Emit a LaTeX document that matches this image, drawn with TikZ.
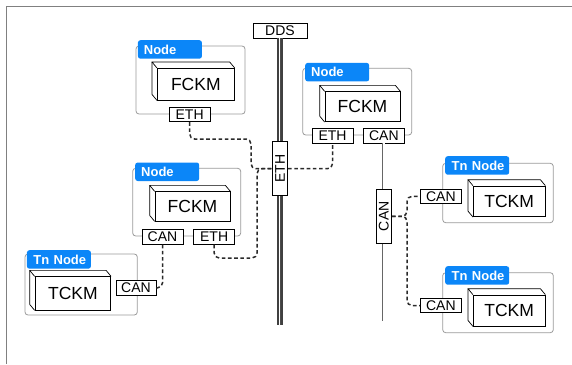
\documentclass[tikz,border=0pt]{standalone}
\usepackage{fontspec}
\usepackage{graphicx}
\setmainfont{Liberation Sans}
\definecolor{tabblue}{HTML}{0B86F8}
\definecolor{grpgray}{HTML}{9A9A9A}
\definecolor{dashc}{HTML}{2A2A2A}
\tikzset{
  grp/.style={draw=grpgray, line width=0.8pt, rounded corners=3pt, inner sep=0pt},
  tabbox/.style={fill=tabblue, rounded corners=2.5pt, anchor=north west, inner xsep=0pt, inner ysep=0pt,
    minimum height=18.5pt, text width=64pt, align=left, text=white, font=\fontsize{13}{13}\selectfont\bfseries},
  port/.style={draw=black, line width=0.7pt, fill=white, inner sep=0pt, minimum width=41pt, minimum height=14.6pt,
    font=\fontsize{14}{14}\selectfont},
  cube/.style={draw=black, line width=0.7pt, fill=white, inner sep=0pt, font=\fontsize{17.5}{17.5}\selectfont},
  cubeedge/.style={draw=black, line width=0.7pt, line join=round},
  conn/.style={draw=dashc, line width=1.5pt, dash pattern=on 3.6pt off 2.6pt, rounded corners=5pt},
  ddsbus/.style={draw=black!75, line width=5.5pt},
  ddsinner/.style={draw=white, line width=2.6pt},
  ddscore/.style={draw=black!70, line width=1pt},
  canbus/.style={draw=black!60, line width=0.9pt, double=white, double distance=1.3pt},
  frame/.style={draw=black!50, line width=1.3pt},
}
\newcommand{\cubeback}[1]{%
  \draw[cubeedge] (#1.north west) -- ([shift={(-5,-6)}]#1.north west) -- ([shift={(-5,-6)}]#1.north east) -- (#1.north east);
  \draw[cubeedge] ([shift={(-5,-6)}]#1.north west) -- ([shift={(-5,-6)}]#1.south west) -- (#1.south west);
}
\begin{document}
\begin{tikzpicture}[x=1pt,y=-1pt]
\useasboundingbox (0,0) rectangle (572,364);
\draw[frame] (572,6.3) -- (6.3,6.3) -- (6.3,364);

% group boxes
\node[grp, minimum width=109pt, minimum height=68pt] (g1) at (190.5,80) {};
\node[grp, minimum width=109pt, minimum height=66.7pt] (g2) at (357.2,101.65) {};
\node[grp, minimum width=108pt, minimum height=67.7pt] (g3) at (186.7,202.15) {};
\node[grp, minimum width=112.3pt, minimum height=61pt] (g4) at (81.15,284.5) {};
\node[grp, minimum width=110.6pt, minimum height=59.4pt] (g5) at (498,193) {};
\node[grp, minimum width=110.6pt, minimum height=60pt] (g6) at (498,302.7) {};

% tabs
\node[tabbox] (t1) at (137.7,40) {\hspace*{6pt}Node};
\node[tabbox] (t2) at (305,62.7) {\hspace*{6pt}Node};
\node[tabbox] (t3) at (135,162.3) {\hspace*{6pt}Node};
\node[tabbox] (t4) at (26.7,250) {\hspace*{6.5pt}Tn Node};
\node[tabbox] (t5) at (445,156) {\hspace*{6.5pt}Tn Node};
\node[tabbox] (t6) at (445,266) {\hspace*{6.5pt}Tn Node};

% cuboids
\node[cube, minimum width=77pt, minimum height=31.7pt] (c1) at (195.8,84.15) {FCKM};
\node[cube, minimum width=75pt, minimum height=30pt] (c2) at (362.5,106.7) {FCKM};
\node[cube, minimum width=75pt, minimum height=29.3pt] (c3) at (192.5,206.35) {FCKM};
\node[cube, minimum width=75.7pt, minimum height=33.3pt] (c4) at (72.85,293.35) {TCKM};
\node[cube, minimum width=71.7pt, minimum height=30.7pt] (c5) at (509.15,201.35) {TCKM};
\node[cube, minimum width=71.7pt, minimum height=31pt] (c6) at (509.15,310.5) {TCKM};
\cubeback{c1}\cubeback{c2}\cubeback{c3}\cubeback{c4}\cubeback{c5}\cubeback{c6}

% DDS and buses
\node[port, minimum width=54pt, minimum height=15pt] (dds) at (280,30.5) {DDS};
\coordinate (ddsend) at (280,325);
\draw[ddsbus] (dds.south) -- (ddsend);
\draw[ddsinner] (dds.south) -- (ddsend);
\draw[ddscore] (dds.south) -- (ddsend);

\node[port] (p2c) at (383.85,135.8) {CAN};
\coordinate (canend) at (383.85,320.7);
\draw[canbus] (p2c.south) -- (canend);

\node[port, minimum width=15.4pt, minimum height=54pt] (beth) at (280,168.7) {\rotatebox{90}{ETH}};
\node[port, minimum width=15.7pt, minimum height=54pt] (bcan) at (383.85,216.3) {\rotatebox{90}{CAN}};

% ports
\node[port] (p1) at (189.65,114.5) {ETH};
\node[port] (p2e) at (332.5,135.8) {ETH};
\node[port, minimum height=15.3pt] (p3c) at (162.5,236.65) {CAN};
\node[port, minimum height=15.3pt] (p3e) at (214.15,236.65) {ETH};
\node[port, minimum width=40pt] (p4) at (136,287.85) {CAN};
\node[port] (p5) at (440.85,196.3) {CAN};
\node[port] (p6) at (440.85,305.5) {CAN};

% connectors
\draw[conn] (p1.south) -- (189.65,139) -- (251,139) -- (251,168.7) -- (beth.west);
\draw[conn] (p3e.south) -- (214.15,258) -- (257,258) -- (257,168.7) -- (beth.west);
\draw[conn] (beth.east) -- (332.5,168.7) -- (p2e.south);
\draw[conn] (bcan.east) -- (407,216.3) -- (407,196.3) -- (p5.west);
\draw[conn] (bcan.east) -- (407,216.3) -- (407,305.5) -- (p6.west);
\draw[conn] (p3c.south) -- (162.5,287.85) -- (p4.east);
\end{tikzpicture}
\end{document}
